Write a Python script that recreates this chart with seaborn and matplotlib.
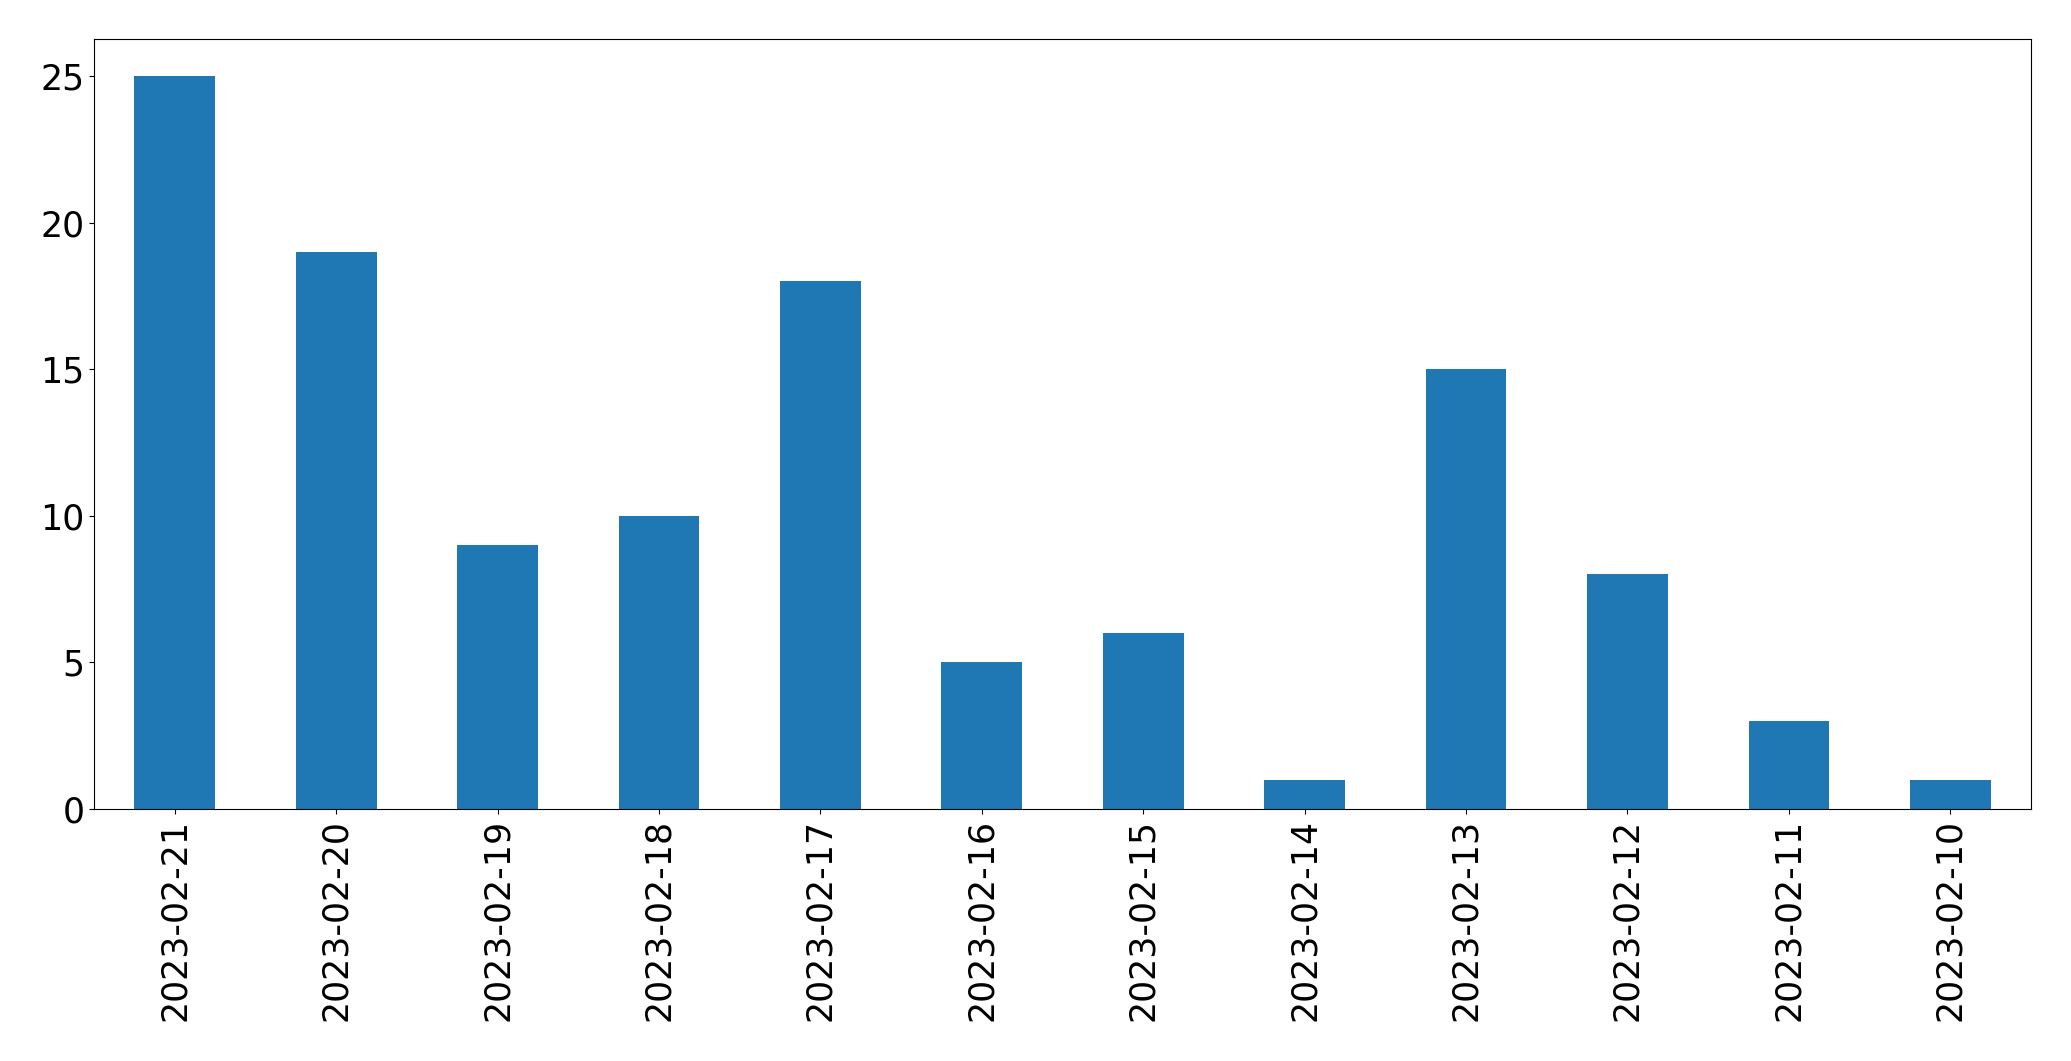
import matplotlib
matplotlib.use('Agg')
import matplotlib.pyplot as plt
import seaborn as sns
import pandas as pd

dates = ['2023-02-21', '2023-02-20', '2023-02-19', '2023-02-18', '2023-02-17', '2023-02-16',
         '2023-02-15', '2023-02-14', '2023-02-13', '2023-02-12', '2023-02-11', '2023-02-10']
counts = [25, 19, 9, 10, 18, 5, 6, 1, 15, 8, 3, 1]

df = pd.DataFrame({'date': dates, 'count': counts})

fig, ax = plt.subplots(figsize=(20.71, 10.61), dpi=100)
sns.barplot(data=df, x='date', y='count', color='#1f77b4', saturation=1, width=0.5,
            linewidth=0, ax=ax)

ax.set_xlim(-0.5, len(dates) - 0.5)
ax.set_ylim(0, max(counts) * 1.05)
ax.set_xlabel('')
ax.set_ylabel('')
ax.tick_params(axis='both', labelsize=25)
plt.setp(ax.get_xticklabels(), rotation=90)

plt.subplots_adjust(left=0.0454, right=0.9807, top=0.9628, bottom=0.2375)
plt.savefig('out.png', dpi=100)
